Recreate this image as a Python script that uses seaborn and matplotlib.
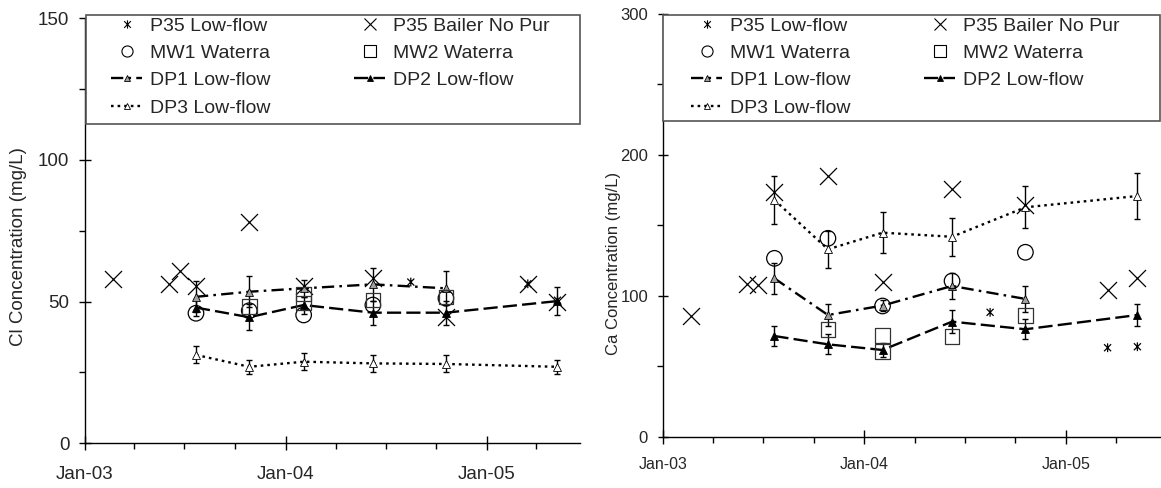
import numpy as np
import pandas as pd
import matplotlib
matplotlib.use("Agg")
import matplotlib.pyplot as plt
import matplotlib.dates as mdates
from matplotlib.path import Path
from matplotlib.lines import Line2D
from matplotlib.patches import Rectangle
from matplotlib.ticker import MultipleLocator
import seaborn as sns

# ---------------- data ----------------
dp_dates = ["2003-07-22", "2003-10-27", "2004-02-03", "2004-06-08", "2004-10-19", "2005-05-10"]
dp1_dates = dp_dates[:5]
bailer_dates = ["2003-02-21", "2003-06-03", "2003-06-23", "2003-07-22", "2003-10-27",
                "2004-02-03", "2004-06-08", "2004-10-19", "2005-03-17", "2005-05-10"]
p35lf_dates = ["2004-08-16", "2005-03-17", "2005-05-10"]
mw1_dates = ["2003-07-22", "2003-10-27", "2004-02-03", "2004-06-08", "2004-10-19"]
mw2_dates = ["2003-10-27", "2004-02-03", "2004-02-03", "2004-06-08", "2004-10-19"]

# Chloride (mg/L)
cl_p35lf = [56.9, 56.3, 50.5]
cl_bailer = [57.9, 56.2, 60.9, 55.5, 78.2, 55.5, 58.2, 44.7, 56.3, 50.0]
cl_mw1 = [45.9, 46.8, 45.3, 48.8, 51.2]
cl_mw2 = [48.2, 52.7, 49.5, 50.6, 51.7]
cl_dp1 = [51.7, 53.5, 54.7, 56.1, 54.7]
cl_dp1_err = [5.5, 5.5, 3.0, 5.7, 6.0]
cl_dp2 = [47.9, 44.5, 48.8, 46.1, 46.1, 50.2]
cl_dp2_err = [3.0, 4.5, 3.0, 4.3, 4.3, 5.0]
cl_dp3 = [31.2, 27.0, 28.8, 28.2, 28.0, 27.0]
cl_dp3_err = [3.0, 2.5, 3.0, 3.0, 3.0, 2.5]

# Calcium (mg/L)
ca_p35lf = [88.2, 63.1, 63.8]
ca_bailer = [85.6, 108.3, 107.6, 173.8, 184.9, 110.0, 176.0, 164.3, 104.0, 112.3]
ca_mw1 = [126.5, 140.7, 92.7, 110.4, 130.8]
ca_mw2 = [76.2, 71.6, 60.3, 70.9, 85.8]
ca_dp1 = [112.3, 86.3, 93.0, 106.9, 97.7]
ca_dp1_err = [11.0, 8.0, 4.0, 9.0, 9.0]
ca_dp2 = [71.4, 65.5, 61.5, 81.6, 76.2, 86.3]
ca_dp2_err = [7.0, 7.0, 5.0, 8.0, 7.0, 8.0]
ca_dp3 = [167.9, 132.9, 144.7, 141.8, 162.7, 170.7]
ca_dp3_err = [17.0, 13.0, 14.5, 13.5, 15.0, 16.0]

# ---------------- style ----------------
sns.set_style("ticks")
plt.rcParams["font.family"] = ["Liberation Sans", "DejaVu Sans"]

ASTERISK = Path([(-1, -1), (1, 1), (-1, 1), (1, -1), (0, -1.25), (0, 1.25)],
                [Path.MOVETO, Path.LINETO, Path.MOVETO, Path.LINETO, Path.MOVETO, Path.LINETO])

DP1_LS = (0, (5.2, 2.2, 1.1, 2.2))
DP2_LS = (0, (6.0, 2.2))
DP3_LS = (0, (1.1, 1.7))
LW = 1.7
GRAY = "#a0a0a0"
W, H = 1161, 488


def to_dt(d):
    return pd.to_datetime(pd.Series(d))


def draw(ax, p35, bailer, mw1, mw2, dp1, dp1e, dp2, dp2e, dp3, dp3e):
    for d, v, e in [(dp1_dates, dp1, dp1e), (dp_dates, dp2, dp2e), (dp_dates, dp3, dp3e)]:
        ax.errorbar(to_dt(d), v, yerr=e, fmt="none", ecolor="black",
                    elinewidth=1.0, capsize=2.5, capthick=1.0, zorder=3)
    sns.lineplot(x=to_dt(dp1_dates), y=dp1, ax=ax, sort=False, errorbar=None,
                 color="black", linewidth=LW, linestyle=DP1_LS, marker="^",
                 markersize=5.8, markerfacecolor=GRAY, markeredgecolor="black",
                 markeredgewidth=0.6, zorder=4)
    sns.lineplot(x=to_dt(dp_dates), y=dp2, ax=ax, sort=False, errorbar=None,
                 color="black", linewidth=LW, linestyle=DP2_LS, marker="^",
                 markersize=5.8, markerfacecolor="black", markeredgecolor="black",
                 markeredgewidth=0.6, zorder=4)
    sns.lineplot(x=to_dt(dp_dates), y=dp3, ax=ax, sort=False, errorbar=None,
                 color="black", linewidth=LW, linestyle=DP3_LS, marker="^",
                 markersize=5.8, markerfacecolor="white", markeredgecolor="black",
                 markeredgewidth=0.6, zorder=4)
    sns.scatterplot(x=to_dt(p35lf_dates), y=p35, ax=ax, marker=ASTERISK, s=40,
                    facecolor="none", edgecolor="black", linewidth=0.9, zorder=5)
    sns.scatterplot(x=to_dt(bailer_dates), y=bailer, ax=ax, marker="x", s=150,
                    color="black", linewidth=0.9, zorder=5)
    sns.scatterplot(x=to_dt(mw1_dates), y=mw1, ax=ax, marker="o", s=125,
                    facecolor="none", edgecolor="black", linewidth=0.9, zorder=5)
    sns.scatterplot(x=to_dt(mw2_dates), y=mw2, ax=ax, marker="s", s=110,
                    facecolor="none", edgecolor="#333333", linewidth=0.9, zorder=5)


def legend_handles():
    h = {
        "P35 Low-flow": Line2D([], [], ls="none", marker=ASTERISK, ms=6, mec="black", mfc="none", mew=0.8),
        "P35 Bailer No Pur": Line2D([], [], ls="none", marker="x", ms=9, mec="black", mew=0.8),
        "MW1 Waterra": Line2D([], [], ls="none", marker="o", ms=8, mec="black", mfc="none", mew=0.8),
        "MW2 Waterra": Line2D([], [], ls="none", marker="s", ms=8, mec="black", mfc="none", mew=0.8),
        "DP1 Low-flow": Line2D([], [], color="black", lw=LW, ls=DP1_LS, marker="^", ms=5,
                               mfc=GRAY, mec="black", mew=0.6),
        "DP2 Low-flow": Line2D([], [], color="black", lw=LW, ls=DP2_LS, marker="^", ms=5,
                               mfc="black", mec="black", mew=0.6),
        "DP3 Low-flow": Line2D([], [], color="black", lw=LW, ls=DP3_LS, marker="^", ms=5,
                               mfc="white", mec="black", mew=0.6),
    }
    order = ["P35 Low-flow", "MW1 Waterra", "DP1 Low-flow", "DP3 Low-flow",
             "P35 Bailer No Pur", "MW2 Waterra", "DP2 Low-flow"]
    return [h[k] for k in order], order


def style_axes(ax, ymax, ymaj, ylabel, yfs, xfs, label_x, label_y, xpad,
               ymajlen, leg_xy, box, colsp):
    ax.set_xlim(pd.Timestamp("2003-01-01"), pd.Timestamp("2005-06-20"))
    ax.set_ylim(0, ymax)
    ax.yaxis.set_major_locator(MultipleLocator(ymaj))
    ax.yaxis.set_minor_locator(MultipleLocator(ymaj / 2))
    ax.xaxis.set_major_locator(mdates.YearLocator())
    ax.xaxis.set_minor_locator(mdates.MonthLocator(bymonth=[1, 4, 7, 10]))
    ax.xaxis.set_major_formatter(mdates.DateFormatter("%b-%y"))
    for s in ["top", "right"]:
        ax.spines[s].set_visible(False)
    for s in ["left", "bottom"]:
        ax.spines[s].set_linewidth(1.0)
        ax.spines[s].set_color("black")
    ax.tick_params(axis="y", which="major", direction="inout", length=ymajlen,
                   width=1.0, labelsize=yfs, color="black", pad=7)
    ax.tick_params(axis="x", which="major", direction="inout", length=10,
                   width=1.0, labelsize=xfs, color="black", pad=xpad)
    ax.tick_params(axis="both", which="minor", direction="out", length=4,
                   width=1.0, color="black")
    ax.set_xlabel("")
    ax.set_ylabel(ylabel, fontsize=yfs)
    ax.yaxis.set_label_coords(label_x, label_y)
    x0, y0, x1, y1 = box
    fig = ax.figure
    fig.patches.append(Rectangle((x0 / W, 1 - y1 / H), (x1 - x0) / W, (y1 - y0) / H,
                                 transform=fig.transFigure, fill=True, facecolor="white",
                                 edgecolor="#555555", linewidth=1.2, zorder=9))
    handles, labs = legend_handles()
    leg = fig.legend(handles, labs, ncol=2, loc="upper left",
                     bbox_to_anchor=(leg_xy[0] / W, 1 - leg_xy[1] / H),
                     bbox_transform=fig.transFigure, borderaxespad=0, borderpad=0,
                     frameon=False, fontsize=14, handlelength=1.6, handletextpad=0.4,
                     labelspacing=0.5, columnspacing=colsp)
    leg.set_zorder(10)


fig = plt.figure(figsize=(11.61, 4.88), dpi=100)
ax1 = fig.add_axes([85 / W, 1 - 443.3 / H, 495 / W, 425 / H])
ax2 = fig.add_axes([663 / W, 1 - 436.7 / H, 497 / W, 423 / H])

draw(ax1, cl_p35lf, cl_bailer, cl_mw1, cl_mw2, cl_dp1, cl_dp1_err,
     cl_dp2, cl_dp2_err, cl_dp3, cl_dp3_err)
draw(ax2, ca_p35lf, ca_bailer, ca_mw1, ca_mw2, ca_dp1, ca_dp1_err,
     ca_dp2, ca_dp2_err, ca_dp3, ca_dp3_err)

style_axes(ax1, 150, 50, "Cl Concentration (mg/L)", 13.5, 13.5, -0.117, 0.462, 11,
           8.5, (111, 17), (86, 15, 580, 124), 4.3)
style_axes(ax2, 300, 100, "Ca Concentration (mg/L)", 12, 11.5, -0.085, 0.41, 9.5,
           7.5, (691, 17), (663, 15, 1160, 121), 3.8)

fig.savefig("out.png", dpi=100)
